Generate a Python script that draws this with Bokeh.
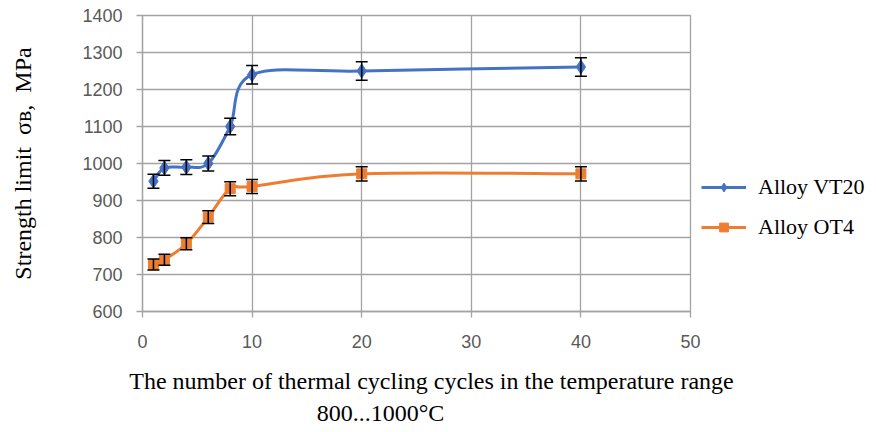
import numpy as np
from bokeh.plotting import figure
from bokeh.models import (ColumnDataSource, Whisker, TeeHead, Legend, LegendItem,
                          FixedTicker, Range1d, LinearAxis)
from bokeh.embed import file_html
from bokeh.resources import INLINE

# ---- data ----
cycles = [1, 2, 4, 6, 8, 10, 20, 40]
vt20 = [952, 988, 990, 1000, 1100, 1240, 1250, 1261]
ot4 = [727, 740, 783, 855, 932, 938, 972, 972]
vt20_err = [19, 20, 20, 20, 22, 25, 25, 25]
ot4_err = [15, 15, 16, 17, 19, 19, 19, 19]
x_ticks = [0, 10, 20, 30, 40, 50]
y_ticks = [600, 700, 800, 900, 1000, 1100, 1200, 1300, 1400]
series_names = ["Alloy VT20", "Alloy OT4"]
NB = "\u00a0"
x_title_1 = NB * 5 + "The number of thermal cycling cycles in the temperature range"
x_title_2 = "800...1000°C" + NB * 12
y_title = "Strength limit" + NB * 2 + "σв," + NB * 2 + "MPa"

BLUE = "#4472C4"
ORANGE = "#ED7D31"
GRID = "#a3a3a3"
SERIF = "Liberation Serif"
LEGEND_FONT = "'Liberation Serif', 'Times New Roman', serif"


def smooth_segments(xs, ys, k=1.0 / 6.0):
    """Cubic Bezier control points (Catmull-Rom style, like a smoothed line)."""
    d = dict(x0=[], y0=[], x1=[], y1=[], cx0=[], cy0=[], cx1=[], cy1=[])
    n = len(xs)
    for i in range(n - 1):
        xp, yp = (xs[i - 1], ys[i - 1]) if i > 0 else (xs[i], ys[i])
        xn, yn = (xs[i + 2], ys[i + 2]) if i + 2 < n else (xs[i + 1], ys[i + 1])
        d["x0"].append(xs[i]); d["y0"].append(ys[i])
        d["x1"].append(xs[i + 1]); d["y1"].append(ys[i + 1])
        d["cx0"].append(xs[i] + (xs[i + 1] - xp) * k)
        d["cy0"].append(ys[i] + (ys[i + 1] - yp) * k)
        d["cx1"].append(xs[i + 1] - (xn - xs[i]) * k)
        d["cy1"].append(ys[i + 1] - (yn - ys[i]) * k)
    return ColumnDataSource(d)


p = figure(frame_width=548, frame_height=296,
           x_range=Range1d(0, 50), y_range=Range1d(600, 1400),
           output_backend="svg", toolbar_location=None,
           min_border_left=142, min_border_top=15, min_border_bottom=121,
           min_border_right=180)
p.outline_line_color = GRID
p.outline_line_width = 1.3
p.background_fill_color = "white"
p.border_fill_color = "white"

for ax, ticks in ((p.xaxis, x_ticks), (p.yaxis, y_ticks)):
    ax.ticker = FixedTicker(ticks=ticks)
    ax.minor_tick_line_color = None
    ax.major_tick_in = 0
    ax.major_tick_out = 6
    ax.major_tick_line_color = GRID
    ax.major_tick_line_width = 1.3
    ax.axis_line_color = GRID
    ax.axis_line_width = 1.3
    ax.major_label_text_font = "Liberation Sans"
    ax.major_label_text_font_size = "18px"
    ax.major_label_text_color = "#595959"
p.yaxis.major_label_standoff = 14
p.xaxis.major_label_standoff = 17

p.yaxis.axis_label = y_title
p.yaxis.axis_label_text_font = SERIF
p.yaxis.axis_label_text_font_size = "24px"
p.yaxis.axis_label_text_font_style = "normal"
p.yaxis.axis_label_text_color = "black"
p.yaxis.axis_label_standoff = 43

for ax, lab, so in ((p.xaxis[0], x_title_1, 17), (None, x_title_2, 3)):
    if ax is None:
        ax = LinearAxis(ticker=FixedTicker(ticks=[]), axis_line_color=None,
                        major_tick_line_color=None, minor_tick_line_color=None,
                        major_label_text_font_size="0px", major_tick_out=0,
                        major_label_standoff=0)
        p.add_layout(ax, "below")
    ax.axis_label = lab
    ax.axis_label_text_font = SERIF
    ax.axis_label_text_font_size = "24px"
    ax.axis_label_text_font_style = "normal"
    ax.axis_label_text_color = "black"
    ax.axis_label_standoff = so

p.xgrid.ticker = FixedTicker(ticks=x_ticks)
p.ygrid.ticker = FixedTicker(ticks=y_ticks)
for g in (p.xgrid, p.ygrid):
    g.grid_line_color = GRID
    g.grid_line_width = 1.3

items = []
for xs, ys, errs, color, marker, msize, name in (
        (cycles, vt20, vt20_err, BLUE, "diamond", 14, series_names[0]),
        (cycles, ot4, ot4_err, ORANGE, "square", 10, series_names[1])):
    seg = smooth_segments(xs, ys)
    br = p.bezier(x0="x0", y0="y0", x1="x1", y1="y1", cx0="cx0", cy0="cy0",
                  cx1="cx1", cy1="cy1", source=seg, line_color=color, line_width=3)
    pts = ColumnDataSource(dict(x=xs, y=ys,
                                lo=[v - e for v, e in zip(ys, errs)],
                                hi=[v + e for v, e in zip(ys, errs)]))
    sr = p.scatter(x="x", y="y", source=pts, marker=marker, size=msize,
                   fill_color=color, line_color=color)
    w = Whisker(base="x", lower="lo", upper="hi", source=pts,
                line_color="black", line_width=1.5, level="overlay",
                upper_head=TeeHead(size=12, line_color="black", line_width=1.5),
                lower_head=TeeHead(size=12, line_color="black", line_width=1.5))
    p.add_layout(w)
    items.append(LegendItem(label=name, renderers=[br, sr]))

legend = Legend(items=items, location=(11, 71), orientation="vertical",
                border_line_color=None, background_fill_alpha=0,
                padding=0, margin=0, spacing=14, glyph_width=45,
                glyph_height=22, label_height=22, label_standoff=12,
                label_text_font=LEGEND_FONT, label_text_font_size="22px",
                label_text_font_style="normal",
                label_text_color="black")
p.add_layout(legend, "right")

open("out.html", "w").write(file_html(p, INLINE))
